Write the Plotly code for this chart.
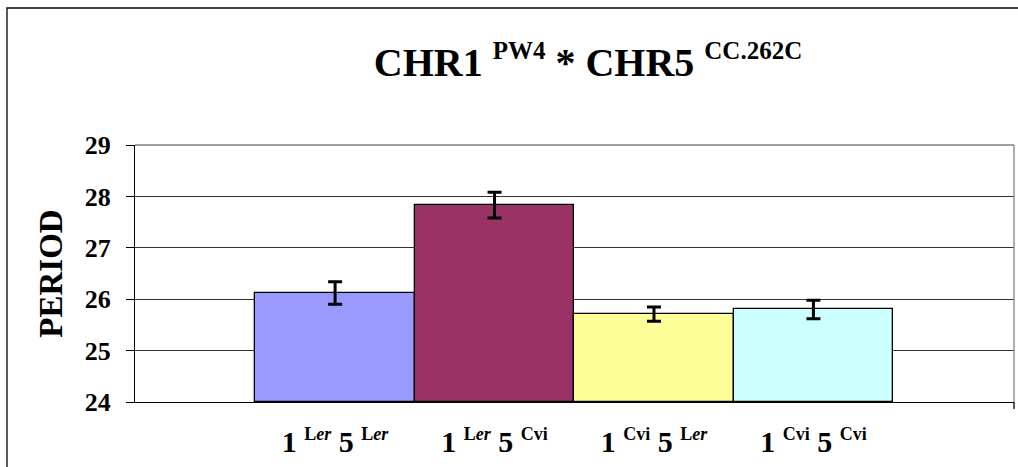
import plotly.graph_objects as go

SUP = '<span style="font-size:18px">'
categories = [f"1 <sup>{SUP}L<i>er</i></span></sup> 5 <sup>{SUP}L<i>er</i></span></sup>",
              f"1 <sup>{SUP}L<i>er</i></span></sup> 5 <sup>{SUP}Cvi</span></sup>",
              f"1 <sup>{SUP}Cvi</span></sup> 5 <sup>{SUP}L<i>er</i></span></sup>",
              f"1 <sup>{SUP}Cvi</span></sup> 5 <sup>{SUP}Cvi</span></sup>"]
period = [26.12, 27.83, 25.71, 25.80]
errors = [0.22, 0.25, 0.14, 0.18]
colors = ["#9999FF", "#993366", "#FFFF99", "#CCFFFF"]
y_ticks = [24, 25, 26, 27, 28, 29]

W, H = 1018, 467
L, R, T, B = 135, 4, 145, 65
pw, ph = W - L - R, H - T - B

fig = go.Figure()
fig.add_trace(go.Bar(
    x=list(range(len(categories))), y=[v - 24 for v in period], base=24,
    width=1.0,
    marker=dict(color=colors, line=dict(color="black", width=1.3)),
    error_y=dict(type="data", array=errors, color="black", thickness=3, width=7),
    showlegend=False,
))

serif = "Liberation Serif"
fig.update_layout(
    width=W, height=H,
    margin=dict(l=L, r=R, t=T, b=B, autoexpand=False),
    paper_bgcolor="white", plot_bgcolor="white",
    font=dict(family=serif, color="black"),
    title=dict(
        text='<b>CHR1 <sup><span style="font-size:25px">PW4</span></sup> * CHR5 <sup><span style="font-size:25px">CC.262C</span></sup></b>',
        x=588 / W, xanchor="center", y=1 - 62 / H, yanchor="middle",
        font=dict(family=serif, size=40, color="black"),
    ),
    bargap=0,
)
fig.update_xaxes(
    range=[-1.255, 4.258], automargin=False,
    tickmode="array", tickvals=list(range(len(categories))),
    ticktext=[f"<b>{c}</b>" for c in categories],
    tickfont=dict(family=serif, size=30, color="black"),
    showgrid=False, zeroline=False,
    showline=True, linecolor="black", linewidth=1.3,
    ticks="", ticklabelstandoff=13,
)
fig.update_yaxes(
    range=[24, 29], automargin=False,
    tickmode="array", tickvals=y_ticks, ticktext=[f"<b>{v}</b>" for v in y_ticks],
    tickfont=dict(family=serif, size=26, color="black"),
    showgrid=True, gridcolor="#333333", gridwidth=1,
    zeroline=False,
    showline=True, linecolor="black", linewidth=1.3,
    ticks="outside", ticklen=8, tickcolor="black", ticklabelstandoff=10,
    title=dict(text="<b>PERIOD</b>", font=dict(family=serif, size=33, color="black"), standoff=12),
)
fig.add_shape(type="line", xref="paper", yref="paper", x0=0, x1=1, y0=1, y1=1,
              line=dict(color="#808080", width=1.3))
fig.add_shape(type="line", xref="paper", yref="paper", x0=1, x1=1, y0=0, y1=1,
              line=dict(color="#808080", width=1.3))
fig.add_shape(type="line", xref="paper", yref="paper", x0=1, x1=1, y0=0, y1=-7 / ph,
              line=dict(color="black", width=1.3))
fig.add_shape(type="rect", xref="paper", yref="paper",
              x0=(7 - L) / pw, x1=(W + 20 - L) / pw,
              y0=-(H + 20 - T - ph) / ph - 0.2, y1=(T + ph - 8) / ph,
              line=dict(color="black", width=1.3), fillcolor="rgba(0,0,0,0)", layer="above")

fig.write_html("out.html")
